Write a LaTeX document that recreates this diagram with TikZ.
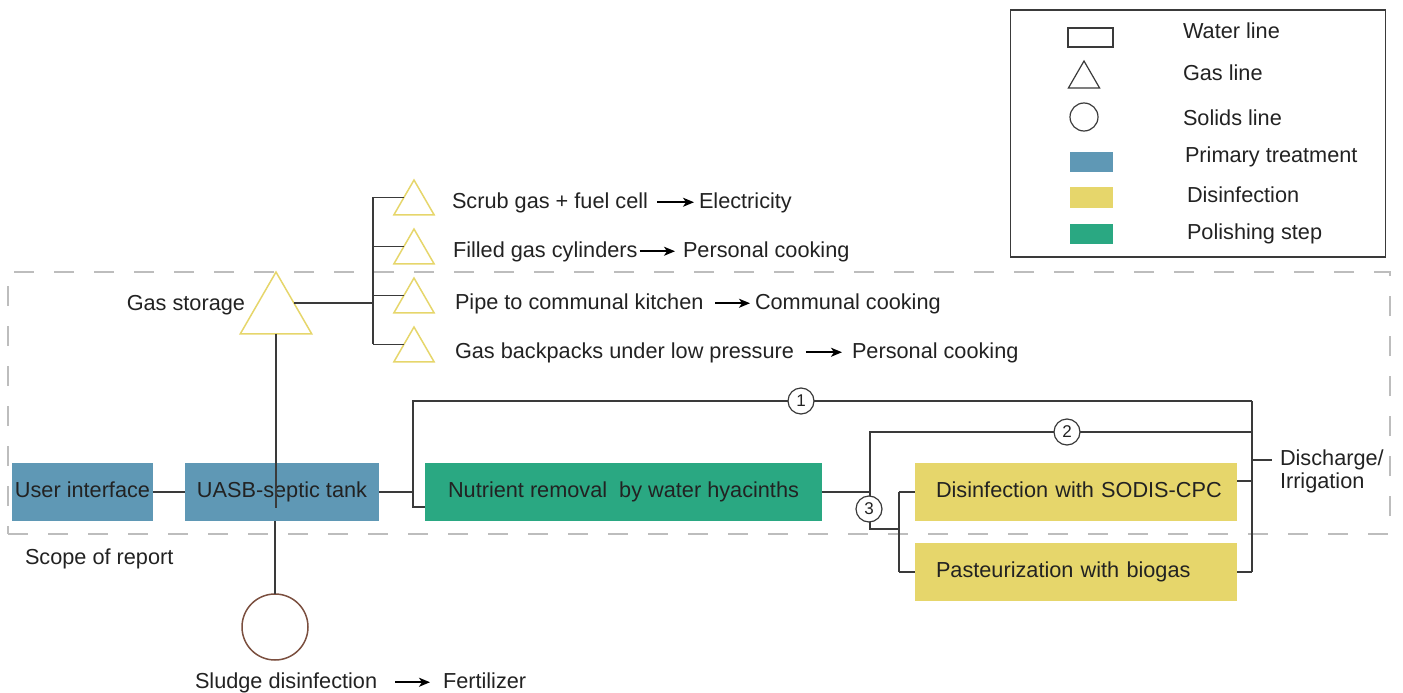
\documentclass[tikz,border=0pt]{standalone}
\usepackage{fontspec}
\setmainfont{Liberation Sans}
\usetikzlibrary{shapes.geometric,arrows.meta}
\definecolor{primblue}{HTML}{5F98B5}
\definecolor{disyellow}{HTML}{E6D66B}
\definecolor{polgreen}{HTML}{2AA882}
\definecolor{sludge}{HTML}{7B4F3F}
\definecolor{ink}{HTML}{222222}
\definecolor{wire}{HTML}{3A3A3A}
\definecolor{scopegray}{HTML}{BDBDBD}

\begin{document}
\begin{tikzpicture}[x=1pt,y=-1pt,
  every node/.style={inner sep=0pt, outer sep=0pt},
  txt/.style={font=\fontsize{21.7}{26}\selectfont, text=ink, text height=16.3pt, text depth=4.8pt},
  conn/.style={draw=wire, line width=1.2pt},
  arr/.style={draw=black, line width=1.7pt, -{Stealth[length=11pt,width=9pt,inset=3pt]}},
  stage/.style={txt, minimum height=58pt},
  primary/.style={stage, fill=primblue},
  polish/.style={stage, fill=polgreen},
  disinf/.style={stage, fill=disyellow, minimum width=322pt, text width=280pt, inner xsep=21pt, align=left},
  gastri/.style={regular polygon, regular polygon sides=3, draw=disyellow, line width=1.5pt, fill=white},
  num/.style={circle, draw=wire, line width=1.2pt, fill=white, minimum size=26pt, text=ink, font=\fontsize{17}{20}\selectfont},
  legendsym/.style={draw=wire, line width=1.2pt},
]
\useasboundingbox (0,0) rectangle (1403,693);

% scope of report
\node[draw=scopegray, line width=1.4pt, dash pattern=on 20pt off 20pt,
      minimum width=1382pt, minimum height=262pt] (scope) at (699,403) {};
\node[txt, anchor=base west] (scopelbl) at (25,564) {Scope of report};

% legend
\node[legendsym, minimum width=375pt, minimum height=247pt] (legend) at (1198,133.5) {};
\node[legendsym, minimum width=45pt, minimum height=19pt] (lgwater) at (1090.5,37.5) {};
\node[gastri, draw=wire, line width=1.2pt, minimum size=36pt] (lggas) at (1084,79) {};
\node[legendsym, circle, minimum size=28pt] (lgsolid) at (1084,117) {};
\node[fill=primblue, minimum width=43pt, minimum height=20pt] (lgprim) at (1091.5,162) {};
\node[fill=disyellow, minimum width=43pt, minimum height=21pt] (lgdis) at (1091.5,197.5) {};
\node[fill=polgreen, minimum width=43pt, minimum height=20pt] (lgpol) at (1091.5,234) {};
\node[txt, anchor=base west] at (1183,39) {Water line};
\node[txt, anchor=base west] at (1183,81) {Gas line};
\node[txt, anchor=base west] at (1183,125) {Solids line};
\node[txt, anchor=base west] at (1185,162) {Primary treatment};
\node[txt, anchor=base west] at (1187,202) {Disinfection};
\node[txt, anchor=base west] at (1187,239) {Polishing step};

% water line stages
\node[primary, minimum width=141pt] (ui) at (82.5,492) {User interface};
\node[primary, minimum width=194pt] (uasb) at (282,492) {UASB-septic tank};
\node[polish, minimum width=397pt] (nut) at (623.5,492) {Nutrient removal\ \ by water hyacinths};
\node[disinf] (sodis) at (1076,492) {\mbox{Disinfection with SODIS-CPC}};
\node[disinf] (past) at (1076,572) {\mbox{Pasteurization with biogas}};

% junction points of the water line
\coordinate (splitA) at (413,401);
\coordinate (splitB) at (870,432);
\coordinate (splitC) at (899,529);
\coordinate (merge) at (1252,401);

\draw[conn] (ui.east) -- (uasb.west);
\draw[conn] (uasb.east) -- (uasb.east -| splitA);
\draw[conn] (merge) -- (splitA) -- (splitA |- 0,507) -- (nut.west |- 0,507);
\draw[conn] (nut.east) -- (nut.east -| splitB);
\draw[conn] (merge |- splitB) -- (splitB) -- (splitB |- splitC) -- (splitC);
\draw[conn] (sodis.west -| splitC) -- (past.west -| splitC);
\draw[conn] (sodis.west -| splitC) -- (sodis.west);
\draw[conn] (past.west -| splitC) -- (past.west);
\draw[conn] (sodis.east |- 0,481) -- (merge |- 0,481);
\draw[conn] (past.east) -- (past.east -| merge);
\draw[conn] (merge) -- (merge |- past.east);
\coordinate (dis) at (1272,460);
\draw[conn] (merge |- dis) -- (dis);
\node[txt, anchor=base west] (dislbl) at (1280,465) {Discharge/};
\node[txt, anchor=base west] (irrlbl) at (1280,488) {Irrigation};

\node[num] (n1) at (801,401) {1};
\node[num] (n2) at (1067,432) {2};
\node[num] (n3) at (869,509) {3};

% gas line
\node[gastri, minimum size=82.6pt] (gs) at (276,313.3) {};
\node[txt, anchor=base east] (gslbl) at (245,310) {Gas storage};
\coordinate (trunk) at (373,0);
\node[gastri, minimum size=46.6pt] (g1) at (414,203.3) {};
\node[gastri, minimum size=46.6pt] (g2) at (414,252.3) {};
\node[gastri, minimum size=46.6pt] (g3) at (414,301.3) {};
\node[gastri, minimum size=46.6pt] (g4) at (414,350.3) {};
\draw[conn] (gs.side 3) -- (gs.side 3 -| trunk);
\draw[conn] (g1.side 1 -| trunk) -- (g4.side 1 -| trunk);
\foreach \g in {g1,g2,g3,g4} \draw[conn] (\g.side 1 -| trunk) -- (\g.side 1);
\coordinate (gasend) at (276,508);
\draw[conn] (gs.side 2) -- (gasend);

\node[txt, anchor=base west] (t1) at (452,208) {Scrub gas + fuel cell};
\node[txt, anchor=base west] (e1) at (699,208) {Electricity};
\node[txt, anchor=base west] (t2) at (453,257) {Filled gas cylinders};
\node[txt, anchor=base west] (e2) at (683,257) {Personal cooking};
\node[txt, anchor=base west] (t3) at (455,309) {Pipe to communal kitchen};
\node[txt, anchor=base west] (e3) at (755,309) {Communal cooking};
\node[txt, anchor=base west] (t4) at (455,358) {Gas backpacks under low pressure};
\node[txt, anchor=base west] (e4) at (852,358) {Personal cooking};
\draw[arr, shorten <=9pt, shorten >=5pt] (t1.east) -- (e1.west);
\draw[arr, shorten <=2pt, shorten >=8pt] (t2.east) -- (e2.west);
\draw[arr, shorten <=12pt, shorten >=5pt] (t3.east) -- (e3.west);
\draw[arr, shorten <=12pt, shorten >=10pt] (t4.east) -- (e4.west);

% solids line
\node[circle, draw=sludge, line width=1.5pt, minimum size=66pt] (sl) at (275,627) {};
\draw[conn] (uasb.south -| sl.north) -- (sl.north);
\node[txt, anchor=base west] (s1) at (195,688) {Sludge disinfection};
\node[txt, anchor=base west] (f1) at (443,688) {Fertilizer};
\draw[arr, shorten <=18pt, shorten >=13pt] (s1.east) -- (f1.west);
\end{tikzpicture}
\end{document}
